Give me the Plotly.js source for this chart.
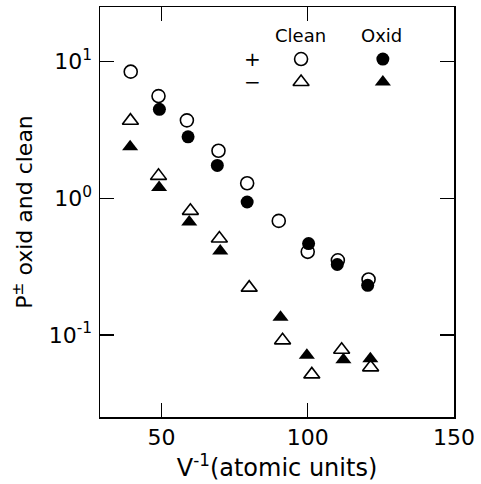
<!DOCTYPE html>
<html><head><meta charset="utf-8">
<script src="https://cdn.plot.ly/plotly-3.0.1.min.js"></script>
<style>html,body{margin:0;padding:0;background:#fff}</style>
</head><body>
<div id="chart" style="width:481px;height:484px"></div>
<script>
// Data
const cleanPlusX  = [39.5, 49, 58.7, 69.5, 79.3, 90.1, 100, 110.3, 120.8];
const cleanPlusY  = [8.45, 5.6, 3.72, 2.23, 1.29, 0.684, 0.406, 0.352, 0.255];
const oxidPlusX   = [49.3, 59.1, 69.1, 79.3, 100.3, 110.1, 120.5];
const oxidPlusY   = [4.48, 2.82, 1.74, 0.94, 0.467, 0.328, 0.231];
const cleanMinusX = [39.4, 49, 59.9, 69.8, 80, 91.4, 101.4, 111.6, 121.5];
const cleanMinusY = [3.70, 1.46, 0.81, 0.508, 0.222, 0.0914, 0.0515, 0.078, 0.058];
const oxidMinusX  = [39.3, 49.2, 59.5, 70.1, 90.7, 99.7, 112.2, 121.4];
const oxidMinusY  = [2.38, 1.20, 0.67, 0.412, 0.135, 0.071, 0.066, 0.067];

const xTickVals = [50, 100, 150];
const xTickText = ['50', '100', '150'];
const yTickVals = [10, 1, 0.1];
const yTickText = ['10<sup>1</sup>', '10<sup>0</sup>', '10<sup>-1</sup>'];

const legendHeaders = ['Clean', 'Oxid'];
const legendRows = ['+', '\u2212'];

// layout positions (paper fractions) for the in-plot key
const keyColX = [0.568, 0.799];
const keyRowY = [0.873, 0.817];
const signX = 0.432;
const headerY = 0.93;

const FONT = 'DejaVu Sans, Verdana, sans-serif';
const circ = 13, tri = 14, lw = 1.6;

const styles = [
  {symbol: 'circle-open', size: circ, color: '#000', line: {width: lw, color: '#000'}},
  {symbol: 'circle', size: circ, color: '#000', line: {width: 0}},
  {symbol: 'triangle-up-open', size: tri, color: '#000', line: {width: lw, color: '#000'}},
  {symbol: 'triangle-up', size: tri, color: '#000', line: {width: 0}}
];

const traces = [
  {x: cleanPlusX, y: cleanPlusY, marker: styles[0]},
  {x: oxidPlusX, y: oxidPlusY, marker: styles[1]},
  {x: cleanMinusX, y: cleanMinusY, marker: styles[2]},
  {x: oxidMinusX, y: oxidMinusY, marker: styles[3]}
].map(t => Object.assign({type: 'scatter', mode: 'markers', showlegend: false, hoverinfo: 'skip'}, t));

// key markers on an overlay axis
[[0,0,0],[1,0,1],[0,1,2],[1,1,3]].forEach(([c, r, s]) => {
  traces.push({type: 'scatter', mode: 'markers', x: [keyColX[c]], y: [keyRowY[r]],
    xaxis: 'x2', yaxis: 'y2', marker: styles[s], showlegend: false, hoverinfo: 'skip'});
});

const annotations = [];
legendHeaders.forEach((h, i) => annotations.push({xref: 'paper', yref: 'paper', x: keyColX[i] - 0.003, y: headerY,
  text: h, showarrow: false, font: {family: FONT, size: 18, color: '#000'}, xanchor: 'center', yanchor: 'middle'}));
legendRows.forEach((s, i) => annotations.push({xref: 'paper', yref: 'paper', x: signX, y: keyRowY[i],
  text: s, showarrow: false, font: {family: FONT, size: 20, color: '#000'}, xanchor: 'center', yanchor: 'middle'}));

const axCommon = {showline: true, linecolor: '#000', linewidth: 1.5, mirror: 'ticks', ticks: 'inside',
  ticklen: 14, tickwidth: 1.3, tickcolor: '#000', showgrid: false, zeroline: false,
  tickfont: {family: FONT, size: 22, color: '#000'}};

const layout = {
  width: 481, height: 484,
  margin: {l: 100, r: 27, t: 7, b: 67},
  paper_bgcolor: '#fff', plot_bgcolor: '#fff',
  showlegend: false,
  xaxis: Object.assign({}, axCommon, {range: [29, 150], tickvals: xTickVals, ticktext: xTickText,
    title: {text: 'V<sup>-1</sup>(atomic units)', font: {family: FONT, size: 24, color: '#000'}, standoff: 0}}),
  yaxis: Object.assign({}, axCommon, {type: 'log', range: [-1.6, 1.4], tickvals: yTickVals, ticktext: yTickText,
    ticklabelstandoff: 2,
    title: {text: 'P<sup>\u00b1</sup> oxid and clean', font: {family: FONT, size: 22, color: '#000'}, standoff: 10}}),
  xaxis2: {overlaying: 'x', range: [0, 1], visible: false, fixedrange: true},
  yaxis2: {overlaying: 'y', range: [0, 1], visible: false, fixedrange: true},
  annotations: annotations
};

Plotly.newPlot('chart', traces, layout, {displayModeBar: false, staticPlot: true});
</script>
</body></html>
